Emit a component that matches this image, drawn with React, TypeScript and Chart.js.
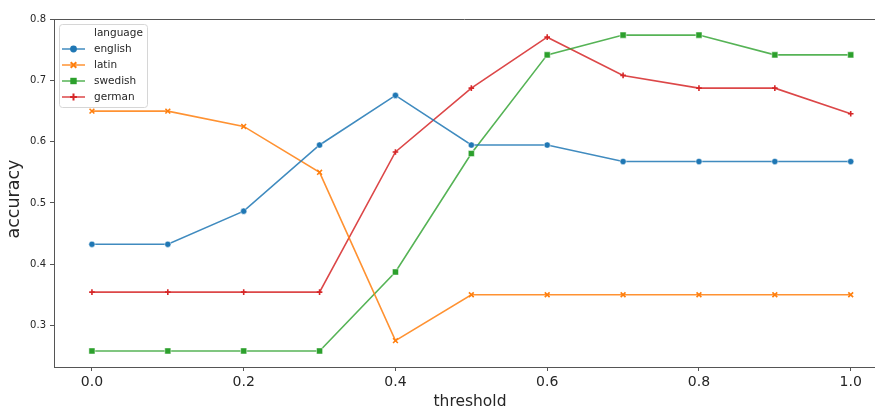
import React, { useEffect, useRef } from "react";
import { Chart, registerables } from "chart.js";

Chart.register(...registerables);

const thresholds = [0.0, 0.1, 0.2, 0.3, 0.4, 0.5, 0.6, 0.7, 0.8, 0.9, 1.0];
const english = [0.4324, 0.4324, 0.4865, 0.5946, 0.6757, 0.5946, 0.5946, 0.5676, 0.5676, 0.5676, 0.5676];
const latin = [0.65, 0.65, 0.625, 0.55, 0.275, 0.35, 0.35, 0.35, 0.35, 0.35, 0.35];
const swedish = [0.2581, 0.2581, 0.2581, 0.2581, 0.3871, 0.5806, 0.7419, 0.7742, 0.7742, 0.7419, 0.7419];
const german = [0.3542, 0.3542, 0.3542, 0.3542, 0.5833, 0.6875, 0.7708, 0.7083, 0.6875, 0.6875, 0.6458];
const xTicks = [0.0, 0.2, 0.4, 0.6, 0.8, 1.0];
const yTicks = [0.3, 0.4, 0.5, 0.6, 0.7, 0.8];
const seriesNames = ["english", "latin", "swedish", "german"];
const seriesColors = ["#1f77b4", "#ff7f0e", "#2ca02c", "#d62728"];
const lineColors = ["rgba(31,119,180,0.85)", "rgba(255,127,14,0.85)", "rgba(44,160,44,0.8)", "rgba(214,39,40,0.85)"];
const pointStyles = ["circle", "crossRot", "rect", "cross"];
const legendTitle = "language";
const xTitle = "threshold";
const yTitle = "accuracy";

const FONT = "'DejaVu Sans', sans-serif";
const TEXT = "#262626";

function drawMarker(ctx: CanvasRenderingContext2D, style: string, x: number, y: number, color: string) {
  ctx.save();
  ctx.fillStyle = color;
  ctx.strokeStyle = color;
  if (style === "circle") {
    ctx.beginPath();
    ctx.arc(x, y, 3.4, 0, Math.PI * 2);
    ctx.fill();
  } else if (style === "rect") {
    ctx.fillRect(x - 3.2, y - 3.2, 6.4, 6.4);
  } else if (style === "crossRot") {
    ctx.lineWidth = 2;
    ctx.beginPath();
    ctx.moveTo(x - 2.8, y - 2.8);
    ctx.lineTo(x + 2.8, y + 2.8);
    ctx.moveTo(x + 2.8, y - 2.8);
    ctx.lineTo(x - 2.8, y + 2.8);
    ctx.stroke();
  } else {
    ctx.lineWidth = 2;
    ctx.beginPath();
    ctx.moveTo(x - 3.4, y);
    ctx.lineTo(x + 3.4, y);
    ctx.moveTo(x, y - 3.4);
    ctx.lineTo(x, y + 3.4);
    ctx.stroke();
  }
  ctx.restore();
}

const framePlugin = {
  id: "frameAndLegend",
  afterDraw(chart: any) {
    const ctx: CanvasRenderingContext2D = chart.ctx;
    const a = chart.chartArea;
    ctx.save();
    // top spine
    ctx.strokeStyle = "#555555";
    ctx.lineWidth = 1;
    ctx.beginPath();
    ctx.moveTo(a.left, Math.round(a.top) + 0.5);
    ctx.lineTo(a.right, Math.round(a.top) + 0.5);
    ctx.stroke();

    // axis titles
    ctx.fillStyle = TEXT;
    ctx.textAlign = "center";
    ctx.textBaseline = "alphabetic";
    ctx.font = `15.5px ${FONT}`;
    ctx.fillText(xTitle, 470, 405.5);
    ctx.save();
    ctx.translate(19.2, 199);
    ctx.rotate(-Math.PI / 2);
    ctx.font = `17.5px ${FONT}`;
    ctx.fillText(yTitle, 0, 0);
    ctx.restore();

    // legend box
    const bx = 59.5, by = 24.5, bw = 88, bh = 83, r = 3;
    ctx.fillStyle = "rgba(255,255,255,0.85)";
    ctx.strokeStyle = "#d6d6d6";
    ctx.lineWidth = 1;
    ctx.beginPath();
    ctx.moveTo(bx + r, by);
    ctx.lineTo(bx + bw - r, by);
    ctx.arcTo(bx + bw, by, bx + bw, by + r, r);
    ctx.lineTo(bx + bw, by + bh - r);
    ctx.arcTo(bx + bw, by + bh, bx + bw - r, by + bh, r);
    ctx.lineTo(bx + r, by + bh);
    ctx.arcTo(bx, by + bh, bx, by + bh - r, r);
    ctx.lineTo(bx, by + r);
    ctx.arcTo(bx, by, bx + r, by, r);
    ctx.closePath();
    ctx.fill();
    ctx.stroke();

    ctx.font = `10.5px ${FONT}`;
    ctx.fillStyle = TEXT;
    ctx.textBaseline = "middle";
    ctx.textAlign = "left";
    ctx.fillText(legendTitle, 94, 33);
    const rowsY = [49, 65, 81, 97];
    seriesNames.forEach((name, i) => {
      const y = rowsY[i];
      ctx.strokeStyle = lineColors[i];
      ctx.lineWidth = 1.5;
      ctx.beginPath();
      ctx.moveTo(62, y);
      ctx.lineTo(85, y);
      ctx.stroke();
      drawMarker(ctx, pointStyles[i], 73.5, y, seriesColors[i]);
      ctx.fillStyle = TEXT;
      ctx.fillText(name, 94, y);
    });
    ctx.restore();
  },
};

export default function App() {
  const ref = useRef<HTMLCanvasElement | null>(null);

  useEffect(() => {
    if (!ref.current) return;
    const datasets = seriesNames.map((name, i) => {
      const vals = [english, latin, swedish, german][i];
      const style = pointStyles[i];
      const isStroke = style === "crossRot" || style === "cross";
      return {
        label: name,
        data: thresholds.map((t, j) => ({ x: t, y: vals[j] })),
        borderColor: lineColors[i],
        backgroundColor: seriesColors[i],
        borderWidth: 1.6,
        pointStyle: style as any,
        pointRadius: style === "cross" ? 2.8 : style === "crossRot" ? 3.4 : style === "rect" ? 4.3 : 3.1,
        pointBorderColor: isStroke ? seriesColors[i] : "#ffffff",
        pointBackgroundColor: seriesColors[i],
        pointBorderWidth: isStroke ? 1.6 : 0.5,
        tension: 0,
        fill: false,
      };
    });

    const chart = new Chart(ref.current, {
      type: "line",
      data: { datasets },
      plugins: [framePlugin],
      options: {
        animation: false,
        responsive: false,
        devicePixelRatio: 1,
        events: [],
        layout: { autoPadding: false, padding: { top: 19.3, right: 0, left: 0, bottom: 0 } },
        plugins: {
          legend: { display: false },
          tooltip: { enabled: false },
          title: { display: false },
        },
        scales: {
          x: {
            type: "linear",
            min: -0.05,
            max: 1.032,
            afterBuildTicks: (s: any) => {
              s.ticks = xTicks.map((v) => ({ value: v }));
            },
            afterFit: (s: any) => {
              s.height = 39;
              s.paddingLeft = 0;
              s.paddingRight = 0;
            },
            ticks: {
              callback: (v: any) => Number(v).toFixed(1),
              font: { family: FONT, size: 14 },
              color: TEXT,
              padding: 3,
              maxRotation: 0,
              autoSkip: false,
            },
            grid: {
              drawOnChartArea: false,
              drawTicks: true,
              tickLength: 4,
              color: "#555555",
            },
            border: { display: true, color: "#555555", width: 1 },
            title: { display: false },
          },
          y: {
            type: "linear",
            min: 0.2319,
            max: 0.8,
            afterBuildTicks: (s: any) => {
              s.ticks = yTicks.map((v) => ({ value: v }));
            },
            afterFit: (s: any) => {
              s.width = 54;
              s.paddingTop = 0;
              s.paddingBottom = 0;
            },
            ticks: {
              callback: (v: any) => Number(v).toFixed(1),
              font: { family: FONT, size: 10 },
              color: TEXT,
              padding: 4,
              autoSkip: false,
            },
            grid: {
              drawOnChartArea: false,
              drawTicks: true,
              tickLength: 4,
              color: "#555555",
            },
            border: { display: true, color: "#555555", width: 1 },
            title: { display: false },
          },
        },
      },
    });
    return () => chart.destroy();
  }, []);

  return (
    <div
      style={{
        position: "fixed",
        left: 0,
        top: 0,
        width: 875,
        height: 406,
        overflow: "hidden",
        background: "#ffffff",
      }}
    >
      <canvas ref={ref} width={875} height={406} style={{ width: 875, height: 406, display: "block" }} />
    </div>
  );
}
